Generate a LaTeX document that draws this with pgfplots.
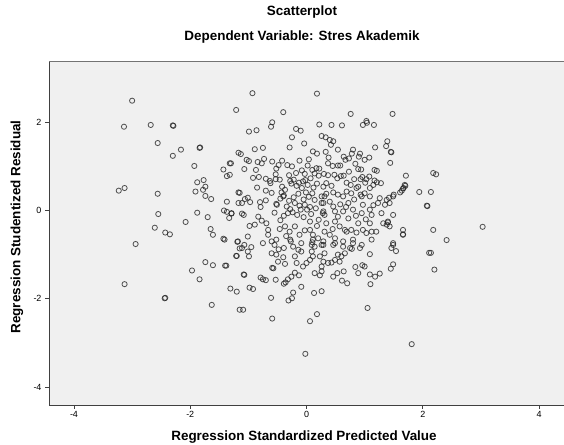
\documentclass[border=0pt]{standalone}
\usepackage{pgfplots}
\pgfplotsset{compat=1.18}
\usepackage{pgfplotstable}
\usepackage{fontspec}
\setmainfont{Liberation Sans}
\definecolor{plotbg}{HTML}{F0F0F0}
\pgfplotstableread{
x y
-3.00 2.49
-3.14 1.90
-2.68 1.94
-2.30 1.93
-2.29 1.92
-2.56 1.53
-2.16 1.38
-2.30 1.24
-1.84 1.42
-1.83 1.43
-1.93 1.01
-1.21 2.28
-1.17 1.31
-1.30 1.07
-1.43 0.93
-1.37 0.78
-3.23 0.45
-3.13 0.51
-2.56 0.38
-1.88 0.64
-1.77 0.69
-1.74 0.54
-1.91 0.43
-1.78 0.47
-1.74 0.33
-1.64 0.26
-1.37 0.20
-1.17 0.41
-1.17 0.17
-2.55 -0.08
-1.88 -0.05
-2.08 -0.26
-1.70 -0.15
-1.42 0.00
-1.37 -0.03
-1.29 -0.07
-1.33 -0.17
-2.61 -0.39
-2.43 -0.50
-2.35 -0.54
-1.65 -0.42
-1.61 -0.55
-1.43 -0.64
-1.19 -0.71
-1.15 -0.86
-2.94 -0.76
-1.21 -1.03
-1.97 -1.36
-1.74 -1.17
-1.61 -1.24
-1.40 -1.25
-1.84 -1.56
-3.13 -1.67
-1.31 -1.77
-1.20 -1.84
-2.44 -1.99
-2.43 -1.98
-1.63 -2.14
-1.15 -2.25
-1.08 -1.45
-1.09 -2.25
-0.59 -2.45
-0.61 -1.98
-0.98 -1.75
-0.92 -1.78
0.06 -2.51
0.18 -2.35
-0.02 -3.25
1.05 -2.21
1.81 -3.03
0.13 -1.87
0.26 -1.83
-0.31 -2.04
-0.25 -1.99
-0.23 -1.86
-0.09 -1.73
-0.39 -1.66
-0.79 -1.52
-0.75 -1.56
-0.70 -1.58
-0.53 -1.57
-0.59 -1.30
-0.32 -1.56
-0.26 -1.50
-0.20 -1.41
-0.13 -1.47
0.14 -1.42
0.23 -1.47
0.46 -1.50
0.53 -1.42
0.64 -1.38
0.61 -1.59
0.70 -1.65
0.84 -1.28
0.89 -1.42
0.96 -1.24
1.00 -1.27
1.09 -1.45
1.18 -1.50
1.26 -1.43
1.10 -1.67
1.45 -1.32
1.49 -1.22
1.49 -0.78
1.54 -0.92
1.66 -0.54
1.66 -0.44
1.09 -0.99
2.11 -0.96
-0.36 -1.63
2.18 -0.44
2.41 -0.67
2.14 -0.96
2.20 -1.34
3.03 -0.37
1.71 0.79
2.18 0.85
2.23 0.82
1.69 0.58
1.67 0.51
1.64 0.45
1.94 0.42
2.14 0.42
2.07 0.11
2.08 0.10
-0.93 2.66
0.18 2.65
-0.40 2.23
0.76 2.19
1.48 2.19
-0.59 2.00
-0.61 1.90
0.22 1.95
0.43 1.94
0.61 1.93
1.03 2.03
1.04 1.99
0.97 1.94
1.16 1.94
-0.99 1.79
-0.86 1.82
-0.18 1.85
-0.10 1.81
-0.25 1.66
-0.04 1.52
-0.29 1.43
0.26 1.69
0.33 1.66
0.40 1.60
0.46 1.57
0.42 1.49
0.54 1.38
1.39 1.57
1.37 1.46
1.45 1.33
1.46 1.32
1.44 1.08
1.18 1.43
-1.13 1.28
-0.89 1.39
-0.75 1.42
0.11 1.34
0.18 1.29
0.33 1.33
0.80 1.38
0.92 1.29
0.90 1.22
1.00 1.15
1.08 1.20
0.78 1.29
0.64 1.22
0.67 1.15
0.73 1.18
-1.32 1.07
-1.03 1.15
-0.99 1.12
-0.84 1.10
-0.73 1.17
-0.77 1.07
-0.59 1.11
-0.42 1.13
-0.12 1.13
0.04 1.16
0.22 0.95
0.37 1.07
0.45 1.01
0.54 1.02
-0.87 0.92
-1.07 0.94
-0.48 1.03
-0.52 0.95
-0.53 0.82
-0.53 0.71
-0.33 1.03
-0.25 1.00
-0.08 0.91
0.10 0.92
0.17 0.96
-0.03 0.83
-0.02 0.69
-0.06 0.66
0.89 0.94
0.94 0.93
1.08 0.77
1.17 0.92
1.21 0.90
0.73 0.88
0.64 0.79
0.59 0.78
0.53 0.73
0.48 0.81
0.37 0.80
0.30 0.83
0.21 0.79
0.14 0.84
-0.82 0.76
-0.70 0.72
-0.92 0.74
-0.28 0.67
-0.22 0.70
-0.13 0.63
0.07 0.73
0.18 0.61
0.69 0.63
0.76 0.58
0.82 0.71
0.93 0.71
1.01 0.63
0.96 0.76
1.03 0.71
1.17 0.68
1.21 0.64
1.28 0.62
1.70 0.56
1.66 0.50
1.61 0.41
1.50 0.36
1.42 0.29
-0.42 0.54
-0.43 0.41
-0.40 0.32
-0.45 0.27
-1.15 0.40
-1.11 0.17
-1.01 0.29
-0.97 0.19
-1.06 0.26
-0.80 0.19
-0.70 0.23
-0.79 0.08
-1.29 -0.06
-1.11 -0.07
-1.08 -0.10
-0.63 0.67
-1.32 0.81
-0.51 0.13
-0.34 0.09
-0.28 0.03
-0.32 -0.06
-0.24 -0.04
-0.39 -0.12
-0.26 0.61
-0.17 0.56
-0.08 0.51
-0.01 0.41
0.10 0.39
-0.39 0.34
-0.37 0.47
-0.62 0.62
-0.46 0.70
-0.20 0.17
-0.12 0.11
-0.03 0.13
0.01 0.02
0.06 0.08
0.14 0.24
0.26 0.17
0.31 0.32
0.29 -0.02
0.06 -0.25
0.21 -0.21
0.31 -0.10
-0.83 -0.14
-0.89 -0.32
-0.77 -0.23
-0.69 -0.29
-0.98 -0.35
-1.01 -0.59
-1.18 -0.70
-1.07 -0.78
-1.41 -0.66
-0.66 -0.44
-0.66 -0.55
-0.75 -0.74
-0.60 -0.70
-0.52 -0.66
-0.46 -0.42
-0.37 -0.36
-0.29 -0.48
-0.20 -0.36
-0.12 -0.55
0.06 -0.44
0.11 -0.55
0.20 -0.63
0.29 -0.78
0.09 -0.78
-0.09 -0.74
-0.28 -0.66
-0.23 -0.82
0.29 0.54
0.34 0.62
0.43 0.56
0.26 0.32
0.34 0.38
0.46 0.41
0.54 0.36
0.63 0.32
0.69 0.43
0.77 0.39
0.86 0.51
0.93 0.36
1.00 0.39
1.09 0.32
0.89 0.54
1.09 0.51
1.15 0.58
1.26 0.28
1.35 0.13
1.43 0.17
1.49 0.32
0.29 0.17
0.28 -0.06
0.46 0.09
0.49 -0.02
0.54 -0.14
0.63 -0.02
0.72 0.17
0.80 0.02
0.97 0.13
0.95 -0.06
1.09 0.02
1.12 -0.10
0.34 -0.29
0.49 -0.25
0.57 -0.36
0.66 -0.44
0.89 -0.29
1.09 -0.29
1.29 -0.06
1.32 -0.29
1.40 -0.25
1.43 -0.36
1.49 -0.10
0.69 -0.48
0.77 -0.44
0.86 -0.50
0.97 -0.44
1.03 -0.51
1.12 -0.48
1.20 -0.48
0.31 -0.48
0.40 -0.55
0.29 -0.70
0.49 -0.63
0.46 -0.78
0.63 -0.70
0.80 -0.66
0.95 -0.78
1.12 -0.66
1.49 -0.74
1.66 -0.55
0.75 -0.85
0.92 -0.85
1.46 -0.85
0.95 0.32
-1.11 -0.85
-1.01 -0.93
-0.95 -0.83
-0.99 -1.04
-1.20 -1.03
-1.38 -1.25
-1.07 -1.46
-0.55 -0.78
-0.60 -0.97
-0.52 -1.00
-0.40 -1.06
-0.49 -1.16
-0.37 -1.21
-0.57 -1.31
-0.39 -0.85
-0.27 -0.70
-0.20 -1.04
-0.14 -0.89
-0.09 -0.93
-0.17 -1.19
-0.06 -1.27
0.00 -1.19
0.06 -1.12
0.11 -1.04
0.09 -0.93
0.14 -0.82
0.10 -0.72
0.11 -0.66
0.23 -1.04
0.29 -1.16
0.26 -1.27
0.26 -1.38
0.31 -0.97
0.26 -0.78
0.37 -1.19
0.43 -1.18
0.49 -1.12
0.54 -1.00
0.60 -1.04
0.66 -0.97
0.57 -1.16
0.49 -0.74
0.63 -0.82
0.80 -0.74
0.78 -0.87
1.40 -0.27
1.38 -0.32
1.15 0.12
1.23 0.17
1.38 0.24
-0.52 0.15
-0.30 0.22
-0.22 0.30
-0.14 0.38
-0.05 0.25
0.04 0.31
0.12 0.52
0.02 0.58
-0.10 0.02
-0.16 -0.10
-0.05 -0.15
0.08 -0.08
0.16 0.05
-0.45 -0.22
-0.55 -0.05
-0.60 0.40
-0.30 0.80
-0.18 0.85
0.02 1.02
0.40 0.20
0.58 0.14
0.68 0.08
0.82 0.25
0.72 -0.18
0.85 -0.12
1.02 -0.20
0.45 -0.42
0.18 -0.35
-0.03 -0.45
-0.35 -0.58
-0.48 -0.88
0.38 1.20
0.58 1.02
0.84 1.06
-0.70 0.45
-0.85 0.52
}\pts
\begin{document}
\begin{tikzpicture}
\path[use as bounding box] (0,0) rectangle (564bp,445bp);
\begin{axis}[
  at={(49bp,40bp)}, anchor=south west,
  scale only axis, width=515bp, height=344bp,
  xmin=-4.43, xmax=4.43, ymin=-4.41, ymax=3.39,
  axis background/.style={fill=plotbg},
  axis x line*=bottom, axis y line*=left,
  axis line style={draw=black!75, line width=0.9bp},
  xtick={-4,-2,0,2,4}, ytick={-4,-2,0,2},
  tick align=outside, major tick length=4bp,
  tick style={draw=black!75, line width=0.8bp},
  /pgf/number format/assume math mode=true,
  tick label style={font=\fontsize{9}{10}\selectfont},
  xticklabel style={yshift=1bp},
  clip=false,
]
\draw[black!55, line width=0.9bp] (rel axis cs:0,1) -- (rel axis cs:1,1);
\addplot[only marks, mark=o, mark size=2.6bp,
  mark options={draw=black!85, line width=0.8bp, draw opacity=0.8}]
  table[x=x, y=y] {\pts};
\end{axis}
\node[font=\bfseries\fontsize{13.5}{15}\selectfont] at (302bp,433bp) {Scatterplot};
\node[font=\bfseries\fontsize{13.5}{15}\selectfont] at (302bp,408bp) {Dependent Variable: Stres Akademik};
\node[font=\bfseries\fontsize{13.5}{15}\selectfont] at (304bp,8bp) {Regression Standardized Predicted Value};
\node[font=\bfseries\fontsize{13.5}{15}\selectfont, rotate=90] at (17bp,218bp) {Regression Studentized Residual};
\end{tikzpicture}
\end{document}
